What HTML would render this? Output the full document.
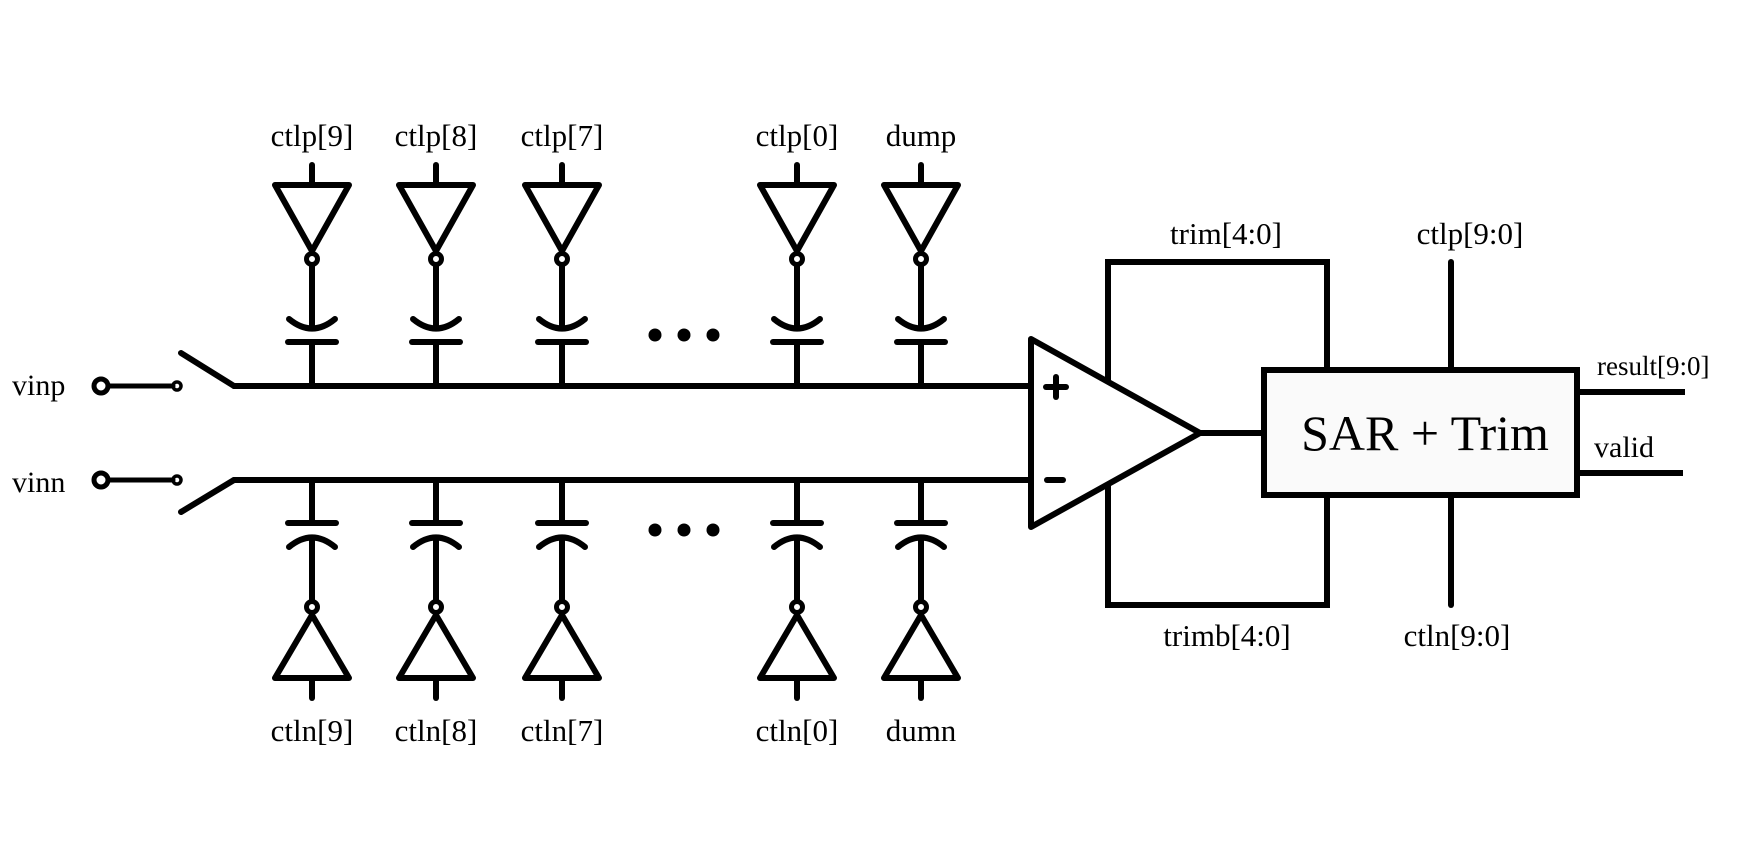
<!DOCTYPE html>
<html><head><meta charset="utf-8"><style>
html,body{margin:0;padding:0;background:#fff;}
svg{display:block;}
text{font-family:"Liberation Serif",serif;fill:#000;}
</style></head><body>
<svg width="1745" height="865" viewBox="0 0 1745 865" xmlns="http://www.w3.org/2000/svg">
<defs>
<g id="colP" fill="none" stroke="#000" stroke-width="6" stroke-linecap="round" stroke-linejoin="round">
  <line x1="0" y1="165" x2="0" y2="185"/>
  <polygon points="-37,185 37,185 0,251"/>
  <circle cx="0" cy="259" r="5.5" stroke-width="5" fill="#fff"/>
  <line x1="0" y1="265" x2="0" y2="328"/>
  <path d="M-23,319 Q0,338 23,319"/>
  <line x1="-24" y1="342" x2="24" y2="342"/>
  <line x1="0" y1="342" x2="0" y2="386"/>
</g>
<g id="colN" fill="none" stroke="#000" stroke-width="6" stroke-linecap="round" stroke-linejoin="round">
  <line x1="0" y1="480" x2="0" y2="523"/>
  <line x1="-24" y1="523" x2="24" y2="523"/>
  <path d="M-23,547 Q0,528 23,547"/>
  <line x1="0" y1="538" x2="0" y2="601"/>
  <circle cx="0" cy="607" r="5.5" stroke-width="5" fill="#fff"/>
  <polygon points="-37,678 37,678 0,615"/>
  <line x1="0" y1="678" x2="0" y2="698"/>
</g>
</defs>

<g fill="none" stroke="#000" stroke-width="6" stroke-linecap="round" stroke-linejoin="round">
  <circle cx="101" cy="386" r="7" stroke-width="5"/>
  <line x1="108" y1="386" x2="173" y2="386" stroke-width="5"/>
  <circle cx="177" cy="386" r="4" stroke-width="3.5"/>
  <line x1="181" y1="353" x2="234" y2="386"/>
  <line x1="234" y1="386" x2="1031" y2="386"/>
  <circle cx="101" cy="480" r="7" stroke-width="5"/>
  <line x1="108" y1="480" x2="173" y2="480" stroke-width="5"/>
  <circle cx="177" cy="480" r="4" stroke-width="3.5"/>
  <line x1="181" y1="512" x2="234" y2="480"/>
  <line x1="234" y1="480" x2="1031" y2="480"/>
  <polygon points="1031,339 1031,527 1200,433"/>
  <line x1="1056" y1="377" x2="1056" y2="397" stroke-width="6"/>
  <line x1="1046" y1="387" x2="1066" y2="387" stroke-width="6"/>
  <line x1="1047" y1="480" x2="1063" y2="480" stroke-width="6"/>
  <line x1="1200" y1="433" x2="1264" y2="433"/>
  <polyline points="1108,381 1108,262 1327,262 1327,370" stroke-linejoin="miter"/>
  <polyline points="1108,485 1108,605 1327,605 1327,495" stroke-linejoin="miter"/>
  <rect x="1264" y="370" width="313" height="125" fill="#fafafa" stroke-linejoin="miter"/>
  <line x1="1451" y1="262" x2="1451" y2="370"/>
  <line x1="1451" y1="495" x2="1451" y2="605"/>
  <line x1="1577" y1="392" x2="1685" y2="392" stroke-linecap="butt"/>
  <line x1="1577" y1="473" x2="1683" y2="473" stroke-linecap="butt"/>
</g>

<use href="#colP" x="312"/><use href="#colP" x="436"/><use href="#colP" x="562"/>
<use href="#colP" x="797"/><use href="#colP" x="921"/>
<use href="#colN" x="312"/><use href="#colN" x="436"/><use href="#colN" x="562"/>
<use href="#colN" x="797"/><use href="#colN" x="921"/>

<g fill="#000">
  <circle cx="655" cy="335" r="6.5"/><circle cx="684" cy="335" r="6.5"/><circle cx="713" cy="335" r="6.5"/>
  <circle cx="655" cy="530" r="6.5"/><circle cx="684" cy="530" r="6.5"/><circle cx="713" cy="530" r="6.5"/>
</g>

<g font-size="31" text-anchor="middle">
  <text x="312" y="146">ctlp[9]</text>
  <text x="436" y="146">ctlp[8]</text>
  <text x="562" y="146">ctlp[7]</text>
  <text x="797" y="146">ctlp[0]</text>
  <text x="921" y="146">dump</text>
  <text x="312" y="741">ctln[9]</text>
  <text x="436" y="741">ctln[8]</text>
  <text x="562" y="741">ctln[7]</text>
  <text x="797" y="741">ctln[0]</text>
  <text x="921" y="741">dumn</text>
  <text x="1226" y="244">trim[4:0]</text>
  <text x="1470" y="244">ctlp[9:0]</text>
  <text x="1227" y="646">trimb[4:0]</text>
  <text x="1457" y="646">ctln[9:0]</text>
</g>
<g font-size="30">
  <text x="12" y="395">vinp</text>
  <text x="12" y="492">vinn</text>
  <text x="1594" y="457">valid</text>
</g>
<text x="1597" y="375" font-size="27">result[9:0]</text>
<text x="1425" y="450" font-size="50" text-anchor="middle">SAR + Trim</text>
</svg>
</body></html>
